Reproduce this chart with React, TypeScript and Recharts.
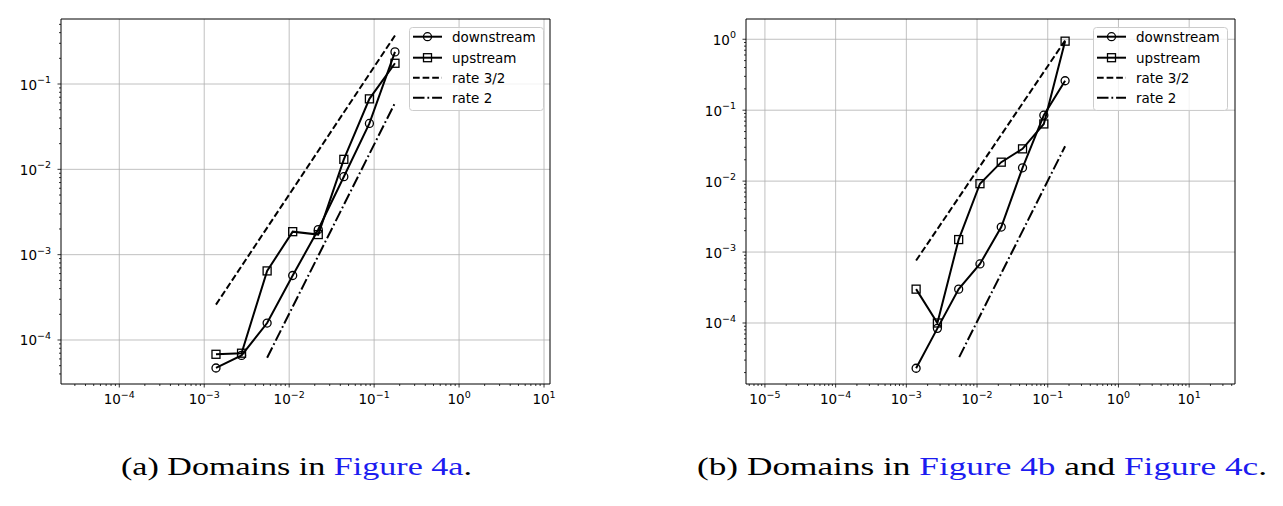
import React from "react";
import { LineChart, Line, XAxis, YAxis, CartesianGrid, Legend, ReferenceArea } from "recharts";

// mesh sizes h (shared by both panels)
const meshSizes = [0.001375, 0.00275, 0.0055, 0.011, 0.022, 0.044, 0.088, 0.176];

// (a) domains in Figure 4a
const downstreamA = [4.7e-5, 6.6e-5, 1.58e-4, 5.7e-4, 1.97e-3, 8.2e-3, 3.45e-2, 0.238];
const upstreamA = [6.8e-5, 7.0e-5, 6.45e-4, 1.86e-3, 1.72e-3, 1.31e-2, 6.7e-2, 0.175];
const rate32AX = [0.001375, 0.176];
const rate32A = [2.6e-4, 0.37];
const rate2AX = [0.0055, 0.176];
const rate2A = [6.2e-5, 6.0e-2];

// (b) domains in Figure 4b and 4c
const downstreamB = [2.3e-5, 8.4e-5, 3.0e-4, 6.8e-4, 2.25e-3, 1.54e-2, 8.5e-2, 0.26];
const upstreamB = [3.0e-4, 1.0e-4, 1.5e-3, 9.2e-3, 1.85e-2, 2.85e-2, 6.4e-2, 0.94];
const rate32BX = [0.001375, 0.176];
const rate32B = [7.6e-4, 0.96];
const rate2BX = [0.0056, 0.176];
const rate2B = [3.3e-5, 3.1e-2];

const seriesLabels = ["downstream", "upstream", "rate 3/2", "rate 2"];

const xMajorA = [1e-4, 1e-3, 1e-2, 1e-1, 1, 10];
const yMajorA = [1e-4, 1e-3, 1e-2, 1e-1];
const xMajorB = [1e-5, 1e-4, 1e-3, 1e-2, 1e-1, 1, 10];
const yMajorB = [1e-4, 1e-3, 1e-2, 1e-1, 1];

const xDomainA: [number, number] = [2.06e-5, 11.76];
const yDomainA: [number, number] = [3.05e-5, 0.578];
const xDomainB: [number, number] = [5.4e-6, 44.5];
const yDomainB: [number, number] = [1.38e-5, 1.93];

const FONT = "DejaVu Sans";
const LINE_W = 2;
const DASH = "6.7 2.9";
const DASH_DOT = "11.5 2.9 1.8 2.9";

const toPoints = (xs: number[], ys: number[]) => xs.map((h, i) => ({ h, e: ys[i] }));

const isMajor = (v: number) => {
  const l = Math.log10(v);
  return Math.abs(l - Math.round(l)) < 1e-6;
};

// major ticks plus the 2..9 minor ticks inside the domain
function logTicks(domain: [number, number]) {
  const lo = Math.floor(Math.log10(domain[0]));
  const hi = Math.ceil(Math.log10(domain[1]));
  const out: number[] = [];
  for (let d = lo; d <= hi; d++) {
    for (let k = 1; k < 10; k++) {
      const v = k * Math.pow(10, d);
      if (v >= domain[0] && v <= domain[1]) out.push(v);
    }
  }
  return out;
}

const expLabel = (v: number) => {
  const p = Math.round(Math.log10(v));
  return p < 0 ? `\u2212${-p}` : `${p}`;
};

const XTick = (props: any) => {
  const { x, y, payload } = props;
  const v = payload.value;
  const major = isMajor(v);
  return (
    <g>
      <line x1={x} x2={x} y1={y} y2={y + (major ? 3.5 : 2)} stroke="#000" strokeWidth={0.8} />
      {major && (
        <text x={x} y={y + 20} textAnchor="middle" fontSize={13.5} fontFamily={FONT} fill="#000">
          10
          <tspan dy={-6.5} fontSize={9.5}>{expLabel(v)}</tspan>
        </text>
      )}
    </g>
  );
};

const YTick = (props: any) => {
  const { x, y, payload } = props;
  const v = payload.value;
  const major = isMajor(v);
  return (
    <g>
      <line x1={x - (major ? 3.5 : 2)} x2={x} y1={y} y2={y} stroke="#000" strokeWidth={0.8} />
      {major && (
        <text x={x - 10} y={y + 5.5} textAnchor="end" fontSize={13.5} fontFamily={FONT} fill="#000">
          10
          <tspan dy={-6.5} fontSize={9.5}>{expLabel(v)}</tspan>
        </text>
      )}
    </g>
  );
};

const circleDot = (p: any) => (
  <circle key={`c${p.index}`} cx={p.cx} cy={p.cy} r={4} fill="none" stroke="#000" strokeWidth={1.3} />
);
const squareDot = (p: any) => (
  <rect key={`s${p.index}`} x={p.cx - 4} y={p.cy - 4} width={8} height={8} fill="none" stroke="#000" strokeWidth={1.3} />
);

function LegendBox() {
  const rows = [9.7, 30.7, 50.7, 70.7];
  return (
    <svg width={136} height={85} style={{ display: "block" }}>
      <rect x={0.5} y={0.5} width={134} height={83} rx={3} fill="#fff" fillOpacity={0.8} stroke="#cccccc" />
      <line x1={4} x2={33} y1={rows[0]} y2={rows[0]} stroke="#000" strokeWidth={LINE_W} />
      <circle cx={18.5} cy={rows[0]} r={4} fill="none" stroke="#000" strokeWidth={1.3} />
      <line x1={4} x2={33} y1={rows[1]} y2={rows[1]} stroke="#000" strokeWidth={LINE_W} />
      <rect x={14.5} y={rows[1] - 4} width={8} height={8} fill="none" stroke="#000" strokeWidth={1.3} />
      <line x1={4} x2={33} y1={rows[2]} y2={rows[2]} stroke="#000" strokeWidth={LINE_W} strokeDasharray={DASH} />
      <line x1={4} x2={33} y1={rows[3]} y2={rows[3]} stroke="#000" strokeWidth={LINE_W} strokeDasharray={DASH_DOT} />
      {seriesLabels.map((s, i) => (
        <text key={s} x={43} y={rows[i] + 4.8} fontSize={13.5} fontFamily={FONT} fill="#000">
          {s}
        </text>
      ))}
    </svg>
  );
}

type PanelProps = {
  left: number;
  yAxisWidth: number;
  marginRight: number;
  legendLeft: number;
  xDomain: [number, number];
  yDomain: [number, number];
  xMajor: number[];
  yMajor: number[];
  downstream: number[];
  upstream: number[];
  r32x: number[];
  r32: number[];
  r2x: number[];
  r2: number[];
};

function Panel(p: PanelProps) {
  return (
    <div style={{ position: "absolute", left: p.left, top: 0 }}>
      <LineChart width={600} height={420} margin={{ top: 19, right: p.marginRight, bottom: 6, left: 0 }}>
        <CartesianGrid
          stroke="#b0b0b0"
          strokeWidth={0.8}
          verticalValues={p.xMajor}
          horizontalValues={p.yMajor}
        />
        <XAxis
          dataKey="h"
          type="number"
          scale="log"
          domain={p.xDomain}
          allowDataOverflow
          ticks={logTicks(p.xDomain)}
          interval={0}
          tick={<XTick />}
          tickLine={false}
          tickSize={0}
          tickMargin={0}
          height={30}
          axisLine={false}
        />
        <YAxis
          dataKey="e"
          type="number"
          scale="log"
          domain={p.yDomain}
          allowDataOverflow
          ticks={logTicks(p.yDomain)}
          interval={0}
          tick={<YTick />}
          tickLine={false}
          tickSize={0}
          tickMargin={0}
          width={p.yAxisWidth}
          axisLine={false}
        />
        <Legend
          layout="vertical"
          align="center"
          verticalAlign="middle"
          content={() => <LegendBox />}
          wrapperStyle={{ left: p.legendLeft, top: 27, width: 136, height: 85 }}
        />
        <Line
          data={toPoints(p.r32x, p.r32)}
          dataKey="e"
          type="linear"
          stroke="#000"
          strokeWidth={LINE_W}
          strokeDasharray={DASH}
          dot={false}
          isAnimationActive={false}
        />
        <Line
          data={toPoints(p.r2x, p.r2)}
          dataKey="e"
          type="linear"
          stroke="#000"
          strokeWidth={LINE_W}
          strokeDasharray={DASH_DOT}
          dot={false}
          isAnimationActive={false}
        />
        <Line
          data={toPoints(meshSizes, p.upstream)}
          dataKey="e"
          type="linear"
          stroke="#000"
          strokeWidth={LINE_W}
          dot={squareDot}
          activeDot={false}
          isAnimationActive={false}
        />
        <Line
          data={toPoints(meshSizes, p.downstream)}
          dataKey="e"
          type="linear"
          stroke="#000"
          strokeWidth={LINE_W}
          dot={circleDot}
          activeDot={false}
          isAnimationActive={false}
        />
        {/* axes frame */}
        <ReferenceArea
          x1={p.xDomain[0]}
          x2={p.xDomain[1]}
          y1={p.yDomain[0]}
          y2={p.yDomain[1]}
          ifOverflow="visible"
          fill="none"
          fillOpacity={0}
          stroke="#000"
          strokeWidth={1}
        />
      </LineChart>
    </div>
  );
}

const BLUE = "#1c1cf0";

export default function App() {
  return (
    <div style={{ position: "relative", width: 1283, height: 506, background: "#fff", overflow: "hidden" }}>
      <style>{`body{margin:0}`}</style>
      <Panel
        left={0}
        yAxisWidth={61}
        marginRight={50}
        legendLeft={409}
        xDomain={xDomainA}
        yDomain={yDomainA}
        xMajor={xMajorA}
        yMajor={yMajorA}
        downstream={downstreamA}
        upstream={upstreamA}
        r32x={rate32AX}
        r32={rate32A}
        r2x={rate2AX}
        r2={rate2A}
      />
      <Panel
        left={680}
        yAxisWidth={66}
        marginRight={45}
        legendLeft={413}
        xDomain={xDomainB}
        yDomain={yDomainB}
        xMajor={xMajorB}
        yMajor={yMajorB}
        downstream={downstreamB}
        upstream={upstreamB}
        r32x={rate32BX}
        r32={rate32B}
        r2x={rate2BX}
        r2={rate2B}
      />
      <svg width={1283} height={506} style={{ position: "absolute", left: 0, top: 0, pointerEvents: "none" }}>
        <text x={121} y={475} fontSize={25} fontFamily="Liberation Serif" fill="#000" textLength={351} lengthAdjust="spacingAndGlyphs">
          (a) Domains in <tspan fill={BLUE}>Figure 4a</tspan>.
        </text>
        <text x={697} y={475} fontSize={25} fontFamily="Liberation Serif" fill="#000" textLength={570} lengthAdjust="spacingAndGlyphs">
          (b) Domains in <tspan fill={BLUE}>Figure 4b</tspan> and <tspan fill={BLUE}>Figure 4c</tspan>.
        </text>
      </svg>
    </div>
  );
}
